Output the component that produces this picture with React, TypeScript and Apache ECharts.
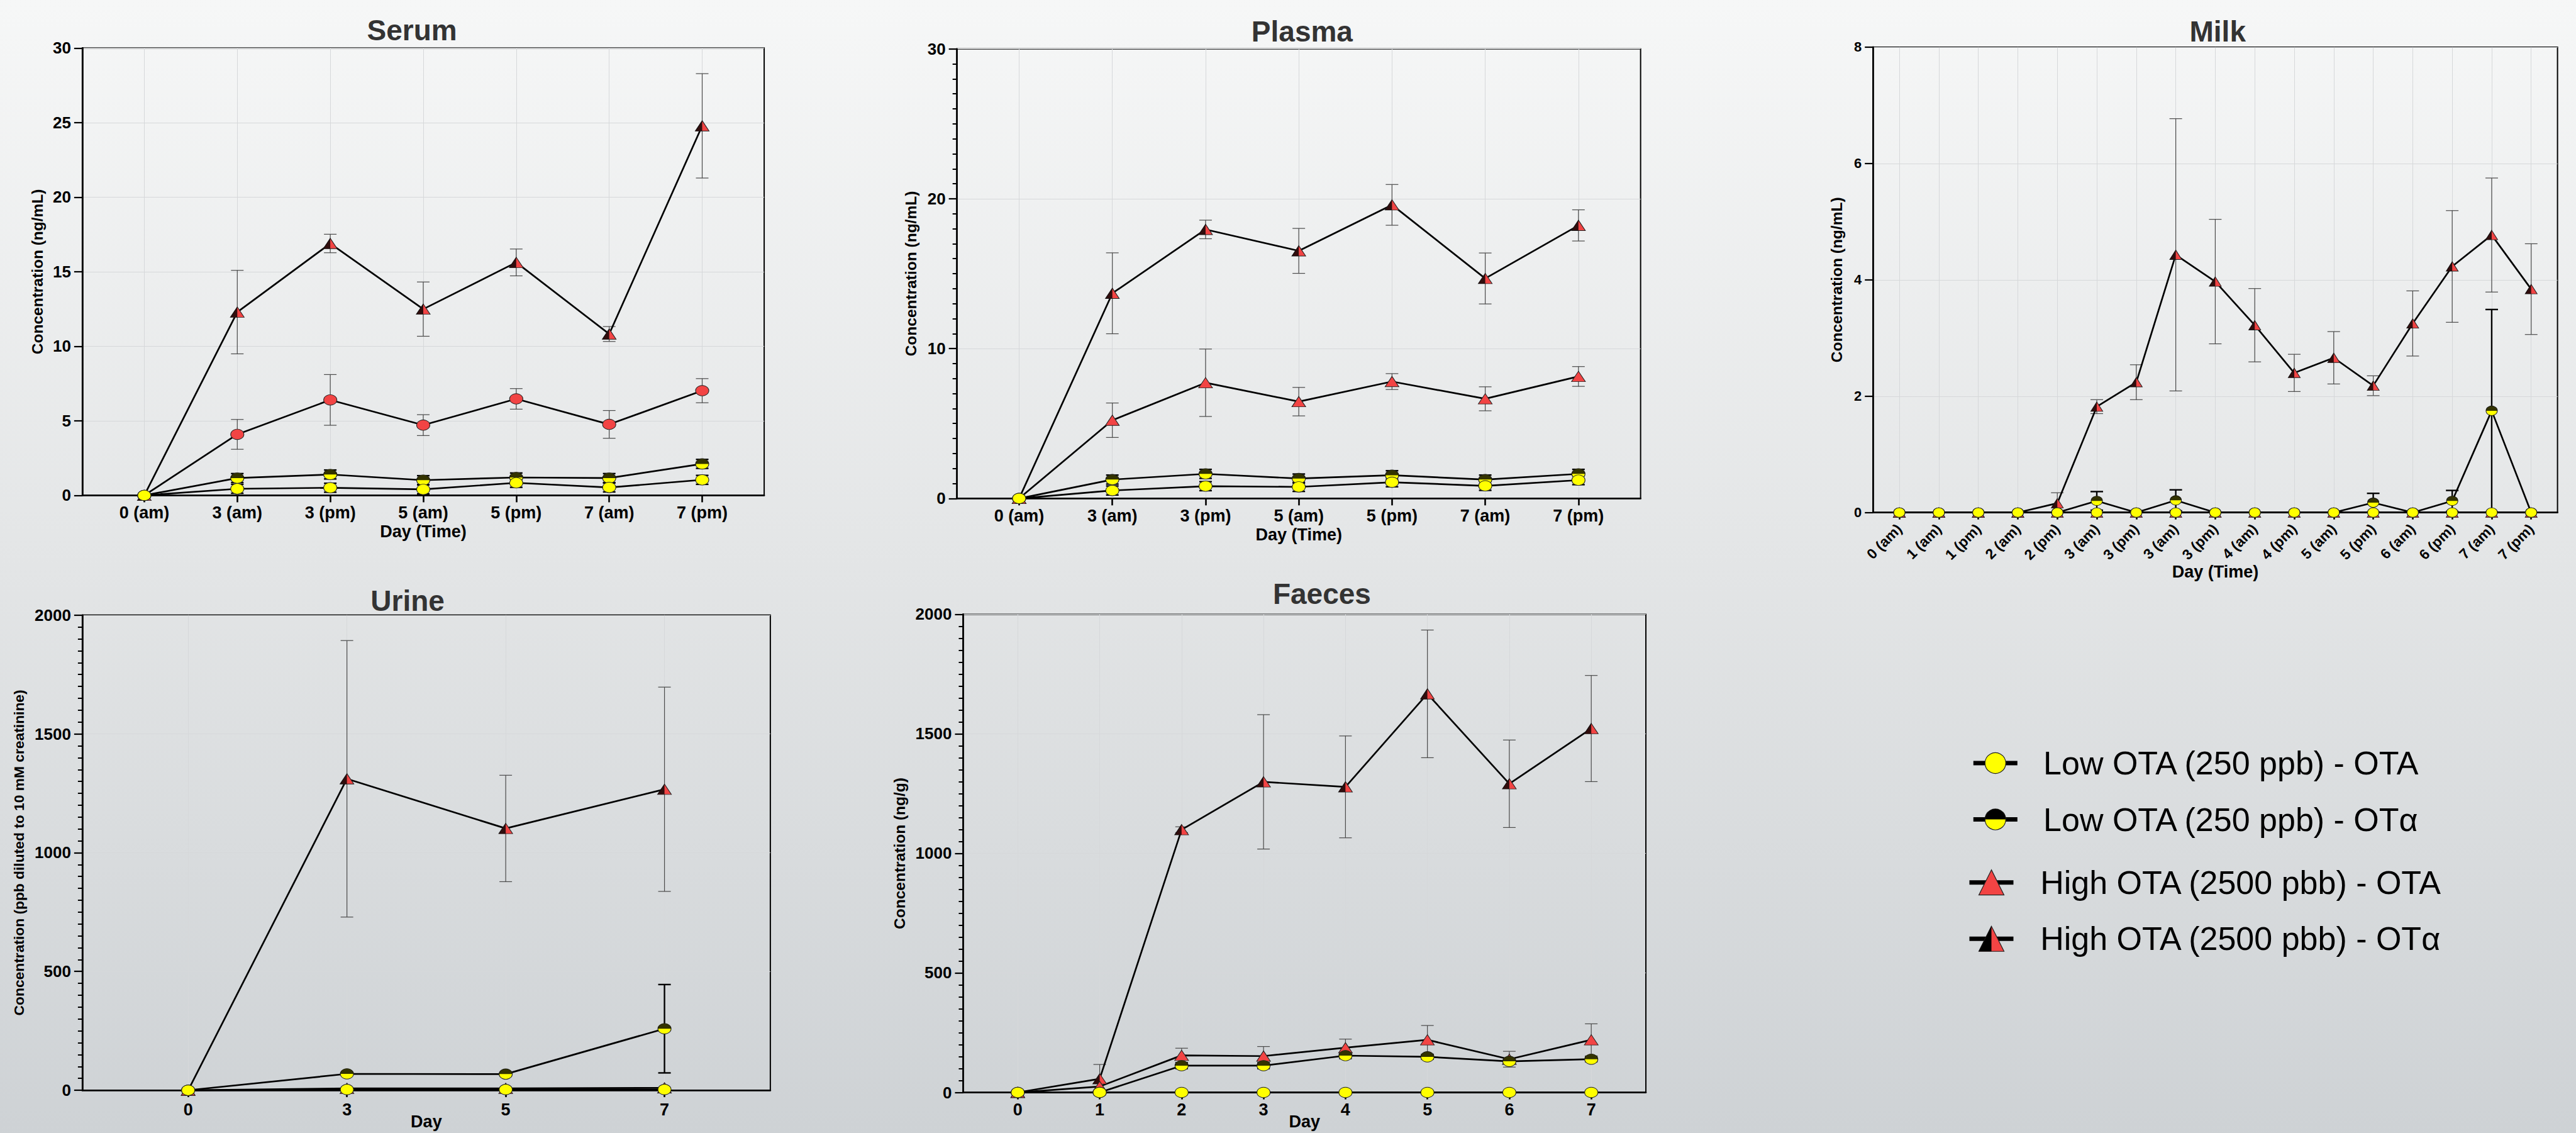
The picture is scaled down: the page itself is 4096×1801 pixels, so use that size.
import React, { useEffect, useRef } from "react";
import * as echarts from "echarts";

const W = 4096;
const H = 1801;
const S = W / 5852;

// ---------------- data ----------------
const serumCats = ["0 (am)", "3 (am)", "3 (pm)", "5 (am)", "5 (pm)", "7 (am)", "7 (pm)"];
const serumHighOTa = [0, 12.29, 16.89, 12.49, 15.62, 10.82, 24.78];
const serumHighOTaErr = [0, 2.8, 0.62, 1.82, 0.9, 0.5, 3.5];
const serumHighOTA = [0, 4.09, 6.4, 4.71, 6.47, 4.76, 7.02];
const serumHighOTAErr = [0, 1.0, 1.7, 0.7, 0.69, 0.93, 0.81];
const serumLowOTa = [0, 1.16, 1.4, 1.02, 1.2, 1.16, 2.11];
const serumLowOTaErr = [0, 0.3, 0.3, 0.3, 0.3, 0.3, 0.3];
const serumLowOTA = [0, 0.44, 0.51, 0.4, 0.84, 0.53, 1.04];
const serumLowOTAErr = [0, 0.3, 0.3, 0.3, 0.3, 0.3, 0.3];

const plasmaCats = ["0 (am)", "3 (am)", "3 (pm)", "5 (am)", "5 (pm)", "7 (am)", "7 (pm)"];
const plasmaHighOTa = [0, 13.69, 17.95, 16.52, 19.59, 14.68, 18.22];
const plasmaHighOTaErr = [0, 2.7, 0.62, 1.5, 1.36, 1.7, 1.04];
const plasmaHighOTA = [0, 5.22, 7.72, 6.46, 7.8, 6.65, 8.14];
const plasmaHighOTAErr = [0, 1.15, 2.25, 0.95, 0.53, 0.8, 0.66];
const plasmaLowOTa = [0, 1.26, 1.64, 1.33, 1.55, 1.26, 1.64];
const plasmaLowOTaErr = [0, 0.3, 0.3, 0.3, 0.3, 0.3, 0.3];
const plasmaLowOTA = [0, 0.53, 0.82, 0.77, 1.08, 0.84, 1.22];
const plasmaLowOTAErr = [0, 0.3, 0.3, 0.3, 0.3, 0.3, 0.3];

const milkCats = [
  "0 (am)", "1 (am)", "1 (pm)", "2 (am)", "2 (pm)", "3 (am)", "3 (pm)", "3 (am)", "3 (pm)",
  "4 (am)", "4 (pm)", "5 (am)", "5 (pm)", "6 (am)", "6 (pm)", "7 (am)", "7 (pm)",
];
const milkHighOTa = [0, 0, 0, 0, 0.16, 1.82, 2.24, 4.43, 3.97, 3.22, 2.4, 2.66, 2.18, 3.25, 4.23, 4.77, 3.84];
const milkHighOTaErr = [0, 0, 0, 0, 0.18, 0.12, 0.3, 2.34, 1.07, 0.63, 0.32, 0.45, 0.17, 0.56, 0.96, 0.98, 0.78];
const milkHighOTA = [0, 0, 0, 0, 0, 0, 0, 0, 0, 0, 0, 0, 0, 0, 0, 0, 0];
const milkHighOTAErr = [0, 0, 0, 0, 0, 0, 0, 0, 0, 0, 0, 0, 0, 0, 0, 0, 0];
const milkLowOTa = [0, 0, 0, 0, 0, 0.2, 0, 0.21, 0, 0, 0, 0, 0.17, 0, 0.2, 1.75, 0];
const milkLowOTaErr = [0, 0, 0, 0, 0, 0.16, 0, 0.18, 0, 0, 0, 0, 0.16, 0, 0.18, 1.74, 0];
const milkLowOTA = [0, 0, 0, 0, 0, 0, 0, 0, 0, 0, 0, 0, 0, 0, 0, 0, 0];
const milkLowOTAErr = [0, 0, 0, 0, 0, 0, 0, 0, 0, 0, 0, 0, 0, 0, 0, 0, 0];

const urineCats = ["0", "3", "5", "7"];
const urineHighOTa = [0, 1311, 1102, 1267];
const urineHighOTaErr = [0, 582, 224, 430];
const urineHighOTA = [0, 8, 8, 10];
const urineHighOTAErr = [0, 0, 0, 0];
const urineLowOTa = [0, 69, 68, 259];
const urineLowOTaErr = [0, 0, 0, 186];
const urineLowOTA = [0, 3, 3, 3];
const urineLowOTAErr = [0, 0, 0, 0];

const faecesCats = ["0", "1", "2", "3", "4", "5", "6", "7"];
const faecesHighOTa = [0, 57, 1099, 1299, 1278, 1667, 1291, 1522];
const faecesHighOTaErr = [0, 60, 12, 281, 213, 267, 183, 222];
const faecesHighOTA = [0, 25, 155, 152, 187, 220, 139, 220];
const faecesHighOTAErr = [0, 0, 30, 40, 36, 60, 33, 67];
const faecesLowOTa = [0, 0, 112, 112, 154, 149, 130, 139];
const faecesLowOTaErr = [0, 0, 12, 12, 12, 10, 10, 10];
const faecesLowOTA = [0, 0, 0, 0, 0, 0, 0, 0];
const faecesLowOTAErr = [0, 0, 0, 0, 0, 0, 0, 0];

const legendLabels = [
  "Low OTA (250 ppb) - OTA",
  "Low OTA (250 ppb) - OTα",
  "High OTA (2500 pbb) - OTA",
  "High OTA (2500 pbb) - OTα",
];

// ---------------- styles ----------------
const FONT = "'Liberation Sans', Arial, Helvetica, sans-serif";
const RED = "#f24444";
const YELLOW = "#ffff00";
const GRIDC = "#d6d8da";
const HALF_TOP = "path://M0,10 C0,4.477 4.477,0 10,0 C15.523,0 20,4.477 20,10 Z";
const HALF_LEFT_TRI = "path://M10,0 L0,20 L10,20 Z";

interface PanelDef {
  title: string;
  cats: string[];
  hiA: number[]; hiAErr: number[];
  hiO: number[]; hiOErr: number[];
  loA: number[]; loAErr: number[];
  loO: number[]; loOErr: number[];
  hiOSymbol: string;
  yMax: number; yStep: number; minor: number;
  box: number[]; // reference px: l,t,r,b
  titleXY: number[];
  yName: string; yNameX: number; yNameSize: number;
  xName: string; xNameY: number;
  labelSize: number; ylabelSize: number; rotate: number; labelMargin: number;
  mk: number[];
}

const panels: PanelDef[] = [
  {
    title: "Serum", cats: serumCats,
    hiA: serumHighOTa, hiAErr: serumHighOTaErr, hiO: serumHighOTA, hiOErr: serumHighOTAErr,
    loA: serumLowOTa, loAErr: serumLowOTaErr, loO: serumLowOTA, loOErr: serumLowOTAErr,
    hiOSymbol: "circle", yMax: 30, yStep: 5, minor: 0,
    box: [187, 109, 1736, 1125], titleXY: [936, 69],
    yName: "Concentration (ng/mL)", yNameX: 85, yNameSize: 24.5, xName: "Day (Time)", xNameY: 1207,
    labelSize: 27, ylabelSize: 26, rotate: 0, labelMargin: 14, mk: [21, 16.5],
  },
  {
    title: "Plasma", cats: plasmaCats,
    hiA: plasmaHighOTa, hiAErr: plasmaHighOTaErr, hiO: plasmaHighOTA, hiOErr: plasmaHighOTAErr,
    loA: plasmaLowOTa, loAErr: plasmaLowOTaErr, loO: plasmaLowOTA, loOErr: plasmaLowOTAErr,
    hiOSymbol: "triangle", yMax: 30, yStep: 10, minor: 10,
    box: [2174, 111, 3727, 1132], titleXY: [2958, 71],
    yName: "Concentration (ng/mL)", yNameX: 2070, yNameSize: 24.5, xName: "Day (Time)", xNameY: 1214,
    labelSize: 27, ylabelSize: 26, rotate: 0, labelMargin: 14, mk: [21, 16.5],
  },
  {
    title: "Milk", cats: milkCats,
    hiA: milkHighOTa, hiAErr: milkHighOTaErr, hiO: milkHighOTA, hiOErr: milkHighOTAErr,
    loA: milkLowOTa, loAErr: milkLowOTaErr, loO: milkLowOTA, loOErr: milkLowOTAErr,
    hiOSymbol: "triangle", yMax: 8, yStep: 2, minor: 0,
    box: [4255, 107, 5810, 1164], titleXY: [5038, 71],
    yName: "Concentration (ng/mL)", yNameX: 4172, yNameSize: 24.5, xName: "Day (Time)", xNameY: 1298,
    labelSize: 23, ylabelSize: 22, rotate: 45, labelMargin: 22, mk: [18, 15],
  },
  {
    title: "Urine", cats: urineCats,
    hiA: urineHighOTa, hiAErr: urineHighOTaErr, hiO: urineHighOTA, hiOErr: urineHighOTAErr,
    loA: urineLowOTa, loAErr: urineLowOTaErr, loO: urineLowOTA, loOErr: urineLowOTAErr,
    hiOSymbol: "triangle", yMax: 2000, yStep: 500, minor: 10,
    box: [187, 1397, 1750, 2476], titleXY: [926, 1365],
    yName: "Concentration (ppb diluted to 10 mM creatinine)", yNameX: 43, yNameSize: 22.8, xName: "Day", xNameY: 2548,
    labelSize: 27, ylabelSize: 26, rotate: 0, labelMargin: 17, mk: [21, 16.5],
  },
  {
    title: "Faeces", cats: faecesCats,
    hiA: faecesHighOTa, hiAErr: faecesHighOTaErr, hiO: faecesHighOTA, hiOErr: faecesHighOTAErr,
    loA: faecesLowOTa, loAErr: faecesLowOTaErr, loO: faecesLowOTA, loOErr: faecesLowOTAErr,
    hiOSymbol: "triangle", yMax: 2000, yStep: 500, minor: 10,
    box: [2188, 1395, 3739, 2481], titleXY: [3003, 1349],
    yName: "Concentration (ng/g)", yNameX: 2044, yNameSize: 24.5, xName: "Day", xNameY: 2548,
    labelSize: 27, ylabelSize: 26, rotate: 0, labelMargin: 14, mk: [21, 16.5],
  },
];

function errSeries(idx: number, vals: number[], errs: number[], color: string, lw: number, cap: number) {
  return {
    type: "custom",
    xAxisIndex: idx,
    yAxisIndex: idx,
    z: 1,
    silent: true,
    clip: false,
    encode: { x: 0, y: 1 },
    data: vals.map((v, k) => [k, v, errs[k]]),
    renderItem: (_params: any, api: any) => {
      const x = api.value(0);
      const v = api.value(1);
      const e = api.value(2);
      if (!e) return { type: "group", children: [] };
      const top = api.coord([x, v + e]);
      const bot = api.coord([x, Math.max(0, v - e)]);
      const hw = cap / 2;
      const style = { stroke: color, lineWidth: lw };
      return {
        type: "group",
        children: [
          { type: "line", shape: { x1: top[0], y1: top[1], x2: bot[0], y2: bot[1] }, style },
          { type: "line", shape: { x1: top[0] - hw, y1: top[1], x2: top[0] + hw, y2: top[1] }, style },
          { type: "line", shape: { x1: bot[0] - hw, y1: bot[1], x2: bot[0] + hw, y2: bot[1] }, style },
        ],
      };
    },
  };
}

function lineSeries(idx: number, name: string, vals: number[], symbol: string, size: number[], fill: string) {
  return {
    type: "line",
    name,
    xAxisIndex: idx,
    yAxisIndex: idx,
    z: 3,
    data: vals,
    symbol,
    symbolSize: size,
    showSymbol: true,
    showAllSymbol: true,
    itemStyle: { color: fill, borderColor: "#222", borderWidth: 1 },
    lineStyle: { color: "#000", width: 2.7 },
    emphasis: { disabled: true },
  };
}

function overlaySeries(idx: number, vals: number[], symbol: string, size: number[], offset: number[]) {
  return {
    type: "scatter",
    xAxisIndex: idx,
    yAxisIndex: idx,
    z: 3,
    silent: true,
    data: vals,
    symbol,
    symbolSize: size,
    symbolOffset: offset,
    itemStyle: { color: "#000", borderWidth: 0 },
    emphasis: { disabled: true },
  };
}

function buildOption() {
  const grid: any[] = [];
  const xAxis: any[] = [];
  const yAxis: any[] = [];
  const series: any[] = [];
  const graphic: any[] = [];

  panels.forEach((p, i) => {
    const [l, t, r, b] = p.box.map((v) => v * S);
    const w = r - l;
    const h = b - t;
    const n = p.cats.length;
    const sp = w / (n - 1 + 4 / 3);
    const m = (sp * 2) / 3;
    const fi = 2 * i;
    const di = 2 * i + 1;

    grid.push({ left: l, top: t, width: w, height: h, show: true, borderColor: "#000", borderWidth: 2, backgroundColor: "transparent" });
    grid.push({ left: l + m, top: t, width: w - 2 * m, height: h, show: false });

    xAxis.push({
      gridIndex: fi, type: "value", min: 0, max: 1,
      axisLine: { show: true, onZero: false, lineStyle: { color: "#000", width: 2.6 } },
      axisTick: { show: false }, axisLabel: { show: false }, splitLine: { show: false },
    });
    xAxis.push({
      gridIndex: di, type: "category", boundaryGap: false,
      data: p.cats.map((_c, k) => String(k)),
      axisLine: { show: false },
      axisTick: { show: true, interval: 0, length: 11, lineStyle: { color: "#000", width: 2.6 } },
      axisLabel: {
        interval: 0,
        formatter: (_v: string, k: number) => p.cats[k],
        rotate: p.rotate, margin: p.labelMargin,
        fontFamily: FONT, fontWeight: "bold", fontSize: p.labelSize, color: "#000",
      },
      splitLine: { show: true, interval: 0, lineStyle: { color: GRIDC, width: 1 } },
    });
    yAxis.push({
      gridIndex: fi, type: "value", min: 0, max: p.yMax, interval: p.yStep,
      axisLine: { show: true, onZero: false, lineStyle: { color: "#000", width: 2.6 } },
      axisTick: { show: true, length: 13, lineStyle: { color: "#000", width: 2.2 } },
      minorTick: { show: p.minor > 0, splitNumber: p.minor || 5, length: 7, lineStyle: { color: "#000", width: 2 } },
      axisLabel: {
        margin: 18, fontFamily: FONT, fontWeight: "bold", fontSize: p.ylabelSize, color: "#000",
        formatter: (v: number) => String(v),
      },
      splitLine: { show: true, lineStyle: { color: GRIDC, width: 1 } },
    });
    yAxis.push({ gridIndex: di, type: "value", min: 0, max: p.yMax, show: false });

    const [mw, mh] = p.mk;
    const tri = [mw + 1, mh];

    series.push(errSeries(di, p.hiA, p.hiAErr, "#4a4a4a", 1.2, 20));
    series.push(errSeries(di, p.hiO, p.hiOErr, "#4a4a4a", 1.2, 20));
    series.push(errSeries(di, p.loA, p.loAErr, "#000", 2.4, 20));
    series.push(errSeries(di, p.loO, p.loOErr, "#000", 2.4, 20));

    series.push(lineSeries(di, "High OTA (2500 pbb) - OTα", p.hiA, "triangle", tri, RED));
    series.push(overlaySeries(di, p.hiA, HALF_LEFT_TRI, [tri[0] / 2, tri[1]], [-tri[0] / 4, 0]));
    series.push(lineSeries(di, "High OTA (2500 pbb) - OTA", p.hiO, p.hiOSymbol, p.hiOSymbol === "triangle" ? tri : [mw, mh], RED));
    series.push(lineSeries(di, "Low OTA (250 ppb) - OTα", p.loA, "circle", [mw, mh], YELLOW));
    series.push(overlaySeries(di, p.loA, HALF_TOP, [mw, mh / 2], [0, -mh / 4]));
    series.push(lineSeries(di, "Low OTA (250 ppb) - OTA", p.loO, "circle", [mw, mh], YELLOW));

    // titles and axis names
    graphic.push({
      type: "text", x: p.titleXY[0] * S, y: p.titleXY[1] * S,
      style: { text: p.title, fontSize: 46, fontWeight: "bold", fontFamily: FONT, fill: "#333", align: "center", verticalAlign: "middle" },
    });
    graphic.push({
      type: "text", x: p.yNameX * S, y: (t + b) / 2, rotation: Math.PI / 2,
      style: { text: p.yName, fontSize: p.yNameSize, fontWeight: "bold", fontFamily: FONT, fill: "#000", align: "center", verticalAlign: "middle" },
    });
    graphic.push({
      type: "text", x: (l + r) / 2, y: p.xNameY * S,
      style: { text: p.xName, fontSize: 27, fontWeight: "bold", fontFamily: FONT, fill: "#000", align: "center", verticalAlign: "middle" },
    });
  });

  // legend
  const rowsY = [1733, 1861, 2004, 2132].map((v) => v * S);
  const markX = [4533, 4533, 4524, 4524].map((v) => v * S);
  const textX = [4642, 4642, 4635, 4635].map((v) => v * S);
  const r = 16.5;
  legendLabels.forEach((lab, k) => {
    const cx = markX[k];
    const cy = rowsY[k];
    graphic.push({ type: "rect", shape: { x: cx - 35, y: cy - 3.5, width: 70, height: 7 }, style: { fill: "#000" } });
    if (k < 2) {
      graphic.push({ type: "circle", shape: { cx, cy, r }, style: { fill: YELLOW, stroke: "#222", lineWidth: 1.2 } });
      if (k === 1) {
        graphic.push({ type: "sector", shape: { cx, cy, r, r0: 0, startAngle: Math.PI, endAngle: 2 * Math.PI, clockwise: true }, style: { fill: "#000" } });
      }
    } else {
      graphic.push({
        type: "polygon",
        shape: { points: [[cx, cy - 20], [cx - 20, cy + 20], [cx + 20, cy + 20]] },
        style: { fill: RED, stroke: "#222", lineWidth: 1.2 },
      });
      if (k === 3) {
        graphic.push({
          type: "polygon",
          shape: { points: [[cx, cy - 20], [cx - 20, cy + 20], [cx, cy + 20]] },
          style: { fill: "#000" },
        });
      }
    }
    graphic.push({
      type: "text", x: textX[k], y: cy,
      style: { text: lab, fontSize: 52, fontFamily: FONT, fill: "#000", align: "left", verticalAlign: "middle" },
    });
  });

  return {
    animation: false,
    backgroundColor: "transparent",
    grid,
    xAxis,
    yAxis,
    series,
    graphic,
  };
}

export default function App() {
  const ref = useRef<HTMLDivElement>(null);
  useEffect(() => {
    if (!ref.current) return;
    const chart = echarts.init(ref.current, null, { renderer: "svg", width: W, height: H });
    chart.setOption(buildOption() as any);
    return () => chart.dispose();
  }, []);
  return (
    <div
      ref={ref}
      style={{
        position: "fixed",
        left: 0,
        top: 0,
        width: W,
        height: H,
        background: "linear-gradient(to bottom, #f6f7f7 0%, #e3e5e6 50%, #ced2d5 100%)",
      }}
    />
  );
}
